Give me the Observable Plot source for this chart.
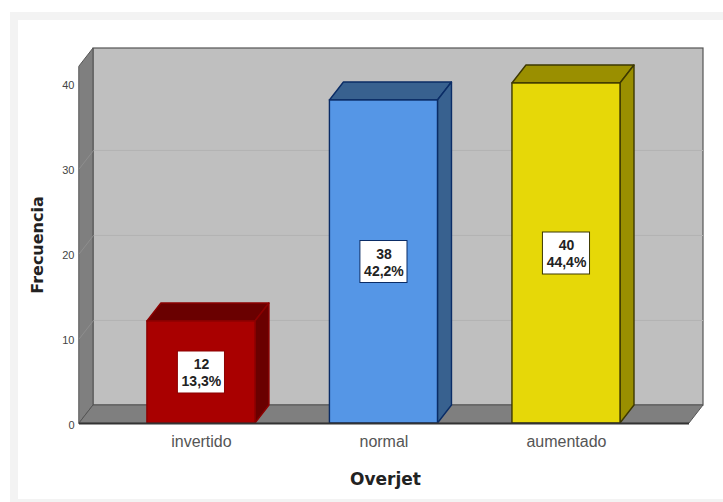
<!DOCTYPE html>
<html>
<head>
<meta charset="utf-8">
<script src="https://cdn.jsdelivr.net/npm/d3@7"></script>
<script src="https://cdn.jsdelivr.net/npm/@observablehq/plot@0.6"></script>
<style>
  html, body { margin: 0; padding: 0; background: #fff; overflow: hidden; }
  #page { position: relative; width: 723px; height: 502px; }
  #panel { position: absolute; left: 10px; top: 12px; right: 0; bottom: 0;
           border-left: 8px solid #f3f3f3; border-top: 8px solid #f3f3f3; border-bottom: 3px solid #f3f3f3; }
  #page svg { position: absolute; left: 0; top: 0; }
</style>
</head>
<body>
<div id="page"><div id="panel"></div></div>
<script>
// Overjet frequencies
const categories = ["invertido", "normal", "aumentado"];
const counts = [12, 38, 40];
const percents = ["13,3%", "42,2%", "44,4%"];
const yTicks = [0, 10, 20, 30, 40];
const gridTicks = [10, 20, 30];

// Face colours of each bar: front, top and side, edge
const frontColors = ["#a90000", "#5596e6", "#e6d808"];
const shadeColors = ["#6a0000", "#38618f", "#9a8f00"];
const edgeColors = ["#8c0000", "#0a2c66", "#3d3800"];

// Extrusion of the box, in data units of each axis
const depthX = 0.0767;
const depthY = 2.118;
const halfBar = 0.296;
const xMin = -0.668;
const xMax = 2.674;
const wallTop = 42;

// A parallelogram spanned by two edges
const face = (a, b, options) =>
  Plot.area(
    [{x1: a[0][0], y1: a[0][1], x2: b[0][0], y2: b[0][1]},
     {x1: a[1][0], y1: a[1][1], x2: b[1][0], y2: b[1][1]}],
    {x1: "x1", y1: "y1", x2: "x2", y2: "y2", curve: "linear", ...options}
  );

const depthEdge = (x, y) => [[x, y], [x + depthX, y + depthY]];

const wallStyle = {fill: "#7f7f7f", stroke: "#555555", strokeWidth: 1};

const bars = categories.flatMap((c, i) => {
  const l = i - halfBar, r = i + halfBar, v = counts[i];
  const shade = {fill: shadeColors[i], stroke: edgeColors[i], strokeWidth: 1.4};
  return [
    face(depthEdge(l, v), depthEdge(r, v), shade),
    face(depthEdge(r, 0), depthEdge(r, v), shade),
    Plot.rect([0], {x1: l, x2: r, y1: 0, y2: v, fill: frontColors[i], stroke: edgeColors[i], strokeWidth: 1.4})
  ];
});

const labels = categories.map((c, i) => ({i, v: counts[i] / 2, text: counts[i] + "\n" + percents[i]}));

const chart = Plot.plot({
  width: 723,
  height: 502,
  marginLeft: 79,
  marginRight: 20,
  marginTop: 48,
  marginBottom: 79,
  style: {background: "transparent", fontFamily: "'Liberation Sans', Arial, sans-serif"},
  x: {type: "linear", domain: [xMin, xMax + depthX], axis: null},
  y: {type: "linear", domain: [0, wallTop + depthY], axis: null},
  marks: [
    // Back wall, with its grid
    Plot.rect([0], {x1: xMin + depthX, x2: xMax + depthX, y1: depthY, y2: wallTop + depthY,
                    fill: "#bfbfbf", stroke: "#555555", strokeWidth: 1.2}),
    Plot.ruleY(gridTicks, {x1: xMin + depthX, x2: xMax + depthX, y: d => d + depthY, stroke: "#b4b4b4", strokeWidth: 1}),
    // Left wall and floor
    face(depthEdge(xMin, 0), depthEdge(xMin, wallTop), wallStyle),
    face(depthEdge(xMin, 0), depthEdge(xMax, 0), wallStyle),
    ...gridTicks.map(t =>
      Plot.line([[xMin, t], [xMin + depthX, t + depthY]], {stroke: "#8e8e8e", strokeWidth: 1})),
    ...bars,
    // Floor front edge
    Plot.ruleY([0], {x1: xMin, x2: xMax, stroke: "#333333", strokeWidth: 2}),
    // Axes
    Plot.axisY({ticks: yTicks, tickSize: 0, tickPadding: 5, fontSize: 11, label: null, color: "#444444", anchor: "left", dy: 1.5}),
    Plot.axisX({ticks: [0, 1, 2], tickFormat: i => categories[i], tickSize: 0, tickPadding: 12,
                fontSize: 16, label: null, color: "#555555", anchor: "bottom"}),
    // Axis titles
    Plot.text(["Overjet"], {x: 1.008, y: 0, dy: 56, text: d => d, fontSize: 17, fontWeight: "bold",
                            fontFamily: "'DejaVu Sans', sans-serif", fill: "#222222"}),
    Plot.text(["Frecuencia"], {x: xMin, y: 21, dx: -42, rotate: -90, text: d => d, fontSize: 16, fontWeight: "bold",
                               fontFamily: "'DejaVu Sans', sans-serif", fill: "#222222"}),
    // Value boxes
    Plot.rect(labels, {x1: d => d.i - 0.129, x2: d => d.i + 0.129, y1: d => d.v - 2.47, y2: d => d.v + 2.47,
                       fill: "#ffffff", stroke: (d, i) => edgeColors[i], strokeWidth: 1}),
    Plot.text(labels, {x: "i", y: "v", text: "text", fontSize: 14, fontWeight: "bold", lineHeight: 1.2, fill: "#222222"})
  ]
});
document.getElementById("page").appendChild(chart);
</script>
</body>
</html>
